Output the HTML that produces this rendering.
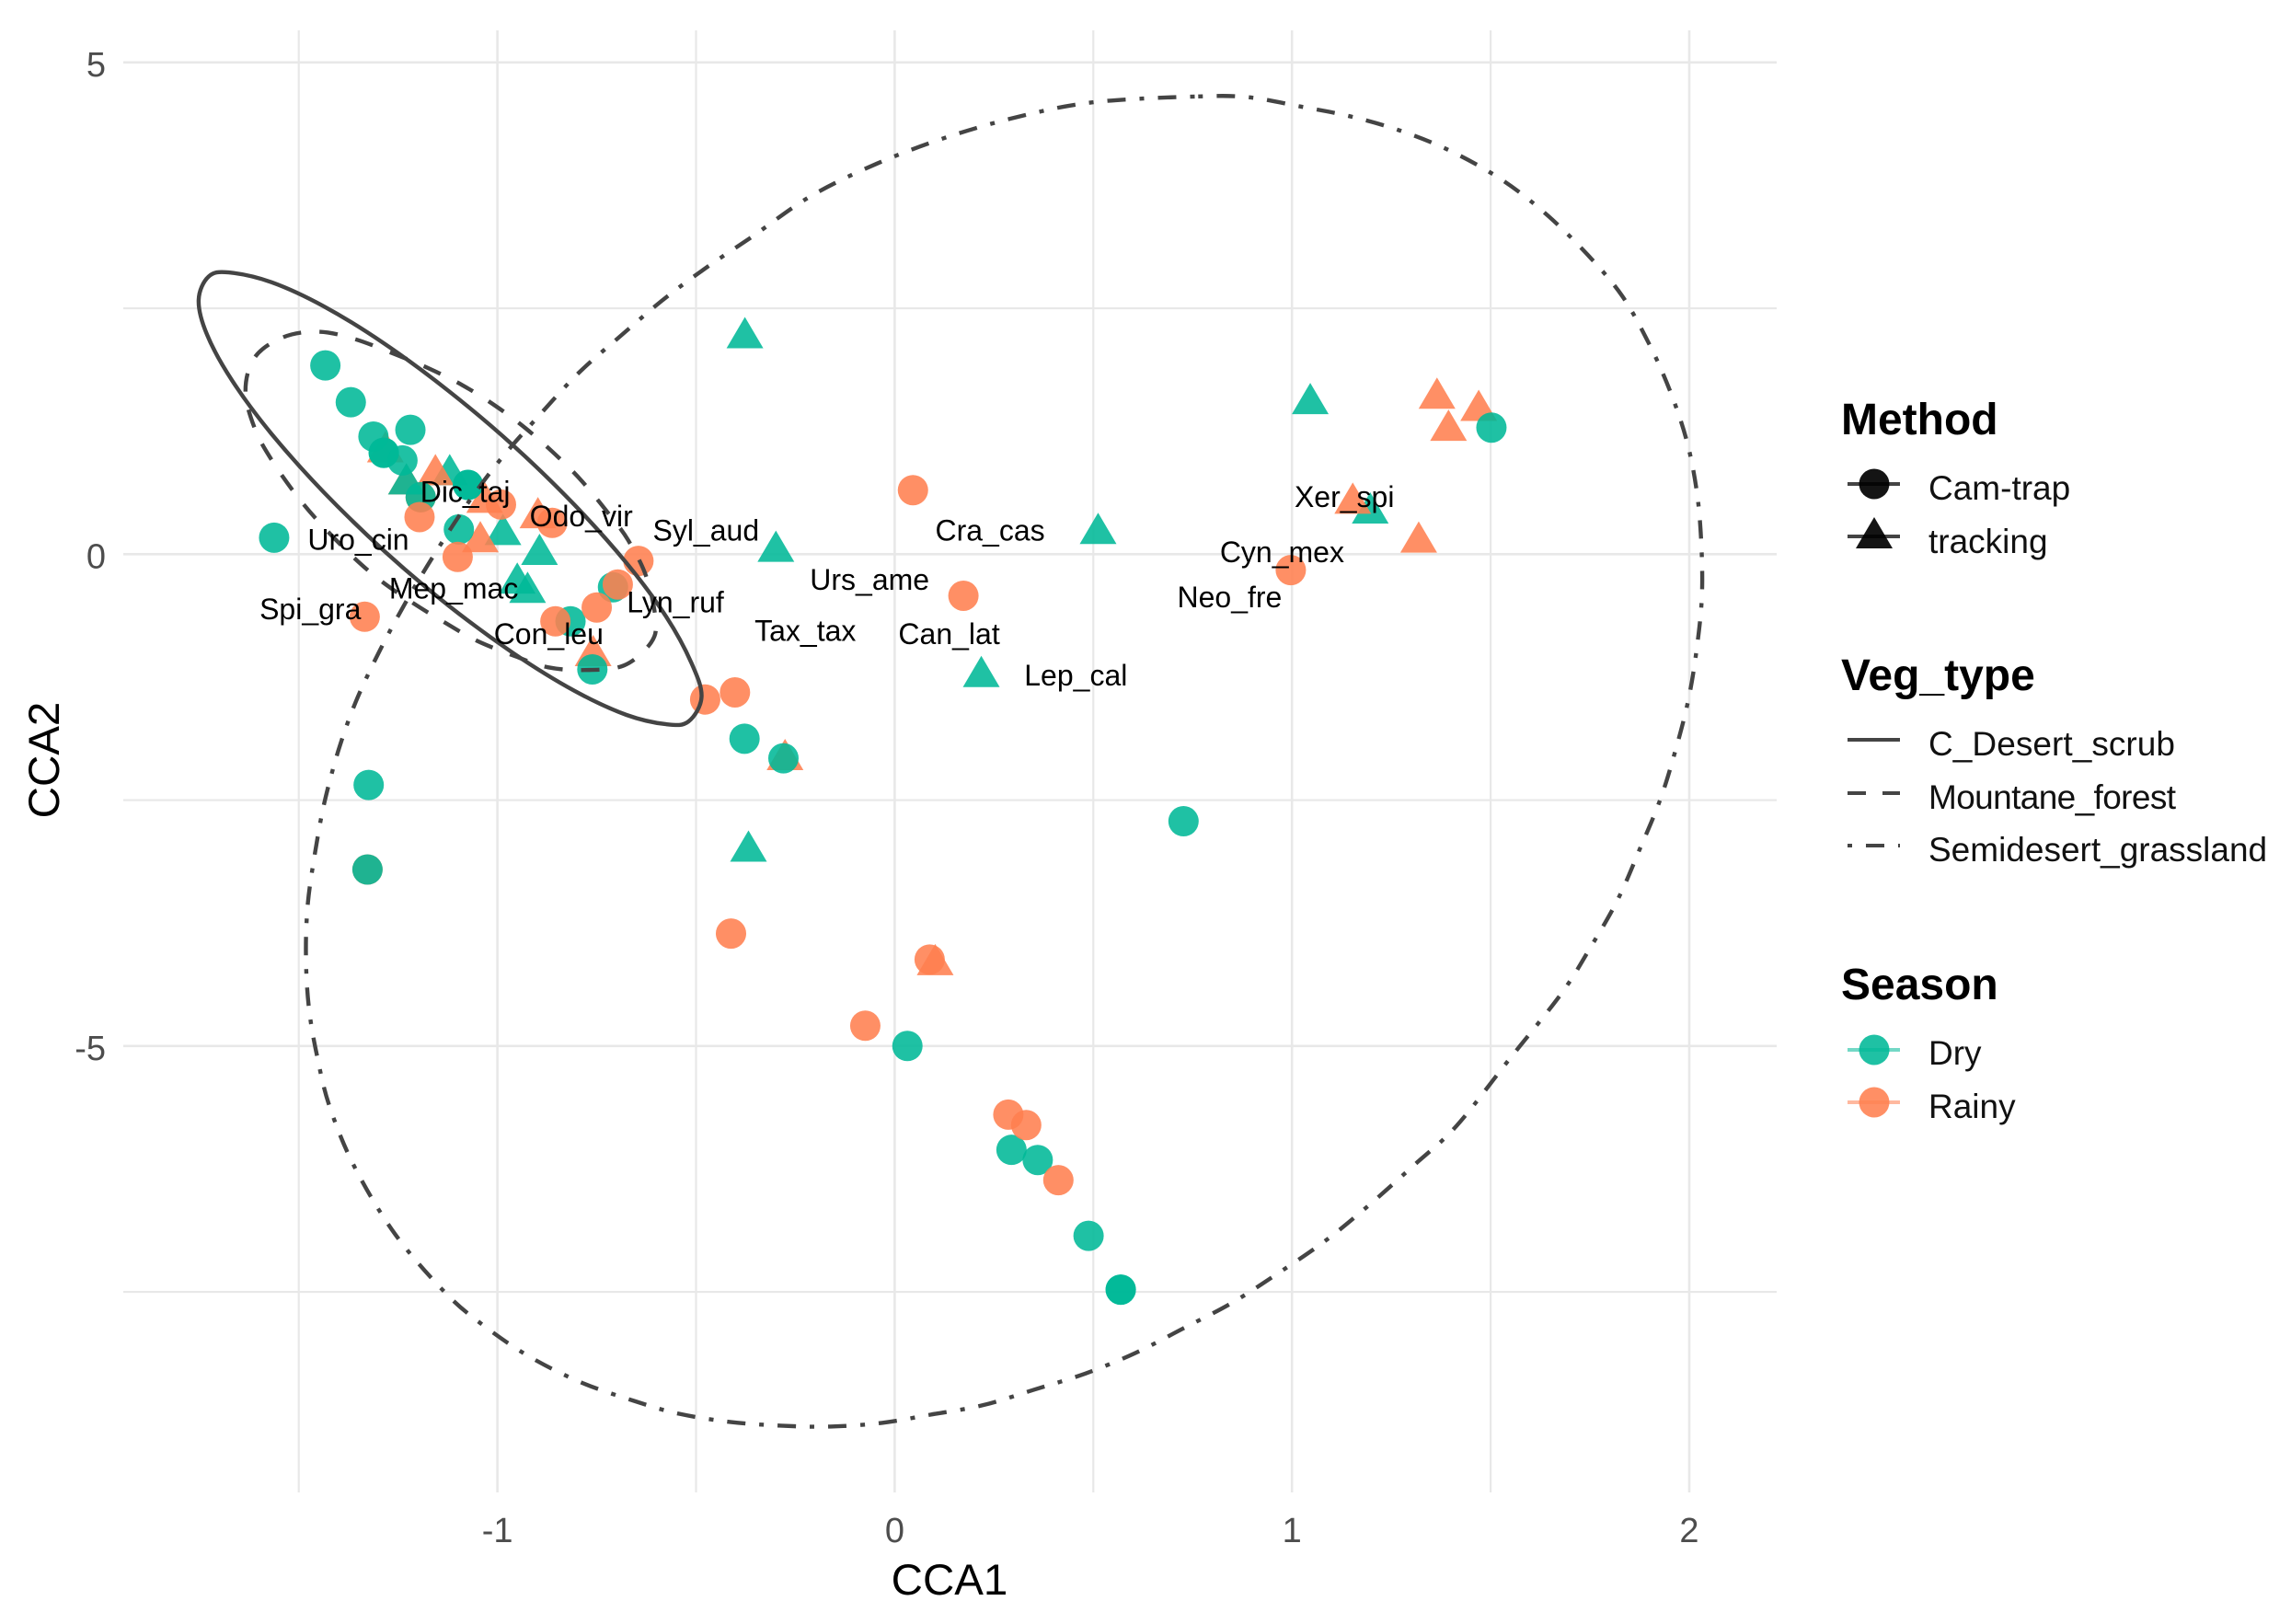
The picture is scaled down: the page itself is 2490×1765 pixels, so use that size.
<!DOCTYPE html>
<html lang="en">
<head>
<meta charset="utf-8">
<title>CCA ordination biplot</title>
<style>
html,body{margin:0;padding:0;background:#fff;}
svg{display:block;font-family:"Liberation Sans",Arial,sans-serif;}
</style>
</head>
<body>
<svg id="chart" xmlns="http://www.w3.org/2000/svg" width="2490" height="1765" viewBox="0 0 2490 1765">
  <g id="grid"></g>
  <g id="axes">
    <text x="1032" y="1733" font-size="47.5" text-anchor="middle" fill="#000">CCA1</text>
    <text transform="translate(64,826) rotate(-90)" font-size="47.5" text-anchor="middle" fill="#000">CCA2</text>
  </g>
  <g id="marks"></g>
  <g id="ellipses"></g>
  <g id="labels"></g>
  <g id="legend" fill="#111">
    <g>
      <text x="2001" y="472" font-size="48" font-weight="bold" fill="#000">Method</text>
      <g>
        <line x1="2008" x2="2065" y1="526" y2="526" stroke="#444" stroke-width="4"/>
        <circle cx="2037" cy="526" r="16.5" fill="#000" fill-opacity="0.92"/>
        <text x="2096" y="543" font-size="37">Cam-trap</text>
      </g>
      <g>
        <line x1="2008" x2="2065" y1="583" y2="583" stroke="#444" stroke-width="4"/>
        <polygon points="2037,562 2057,596 2017,596" fill="#000" fill-opacity="0.92"/>
        <text x="2096" y="601" font-size="37">tracking</text>
      </g>
    </g>
    <g>
      <text x="2001" y="750" font-size="48" font-weight="bold" fill="#000">Veg_type</text>
      <g>
        <line x1="2008" x2="2065" y1="804" y2="804" stroke="#444" stroke-width="4"/>
        <text x="2096" y="821" font-size="37" textLength="268">C_Desert_scrub</text>
      </g>
      <g>
        <line x1="2008" x2="2065" y1="862" y2="862" stroke="#444" stroke-width="4" stroke-dasharray="20 18"/>
        <text x="2096" y="879" font-size="37" textLength="269">Mountane_forest</text>
      </g>
      <g>
        <line x1="2008" x2="2065" y1="919" y2="919" stroke="#444" stroke-width="4" stroke-dasharray="5 15 20 15"/>
        <text x="2096" y="936" font-size="37">Semidesert_grassland</text>
      </g>
    </g>
    <g>
      <text x="2001" y="1086" font-size="48" font-weight="bold" fill="#000">Season</text>
      <g>
        <line x1="2008" x2="2065" y1="1141" y2="1141" stroke="#00b897" stroke-opacity="0.55" stroke-width="4"/>
        <circle cx="2037" cy="1141" r="16.5" fill="#00b897" fill-opacity="0.88"/>
        <text x="2096" y="1157" font-size="37">Dry</text>
      </g>
      <g>
        <line x1="2008" x2="2065" y1="1198" y2="1198" stroke="#ff7f50" stroke-opacity="0.55" stroke-width="4"/>
        <circle cx="2037" cy="1198" r="16.5" fill="#ff7f50" fill-opacity="0.88"/>
        <text x="2096" y="1215" font-size="37">Rainy</text>
      </g>
    </g>
  </g>
</svg>
<script>
// ---- tick data ----
var xMajorTicks = [-1, 0, 1, 2];
var xMajorLabels = ["-1", "0", "1", "2"];
var xMinorTicks = [-1.5, -0.5, 0.5, 1.5];
var yMajorTicks = [5, 0, -5];
var yMajorLabels = ["5", "0", "-5"];
var yMinorTicks = [2.5, -2.5, -7.5];

// ---- point series (CCA1, CCA2) ----
var hiddenRainyTrackingCCA1 = [-1.229];
var hiddenRainyTrackingCCA2 = [0.766];
var hiddenRainyCamCCA1 = [-1.327,-1.193];
var hiddenRainyCamCCA2 = [-3.206,0.579];
var dryTrackingCCA1 = [-1.229,-1.120,-0.986,-0.894,-0.950,-0.924,-0.377,-0.299,-0.368,0.218,0.512,1.046,1.197];
var dryTrackingCCA2 = [0.766,0.860,0.252,0.050,-0.243,-0.336,2.252,0.081,-2.967,-1.192,0.262,1.582,0.470];
var rainyTrackingCCA1 = [-1.156,-1.282,-1.032,-0.898,-1.043,-0.759,-0.276,0.102,1.365,1.470,1.394,1.153,1.319];
var rainyTrackingCCA2 = [0.860,1.093,0.579,0.423,0.178,-0.979,-2.037,-4.121,1.638,1.514,1.311,0.570,0.175];
var dryCamCCA1 = [-1.433,-1.369,-1.312,-1.219,-1.286,-1.286,-1.239,-1.193,-1.074,-1.074,-1.097,-1.562,-0.761,-0.816,-0.709,-0.378,-0.280,1.502,-1.324,-1.327,0.727,0.032,0.294,0.360,0.488,0.569,0.569];
var dryCamCCA2 = [1.919,1.545,1.196,1.264,1.031,1.031,0.953,0.579,0.704,0.704,0.252,0.168,-1.171,-0.682,-0.336,-1.876,-2.075,1.287,-2.346,-3.206,-2.715,-5.000,-6.056,-6.159,-6.930,-7.477,-7.477];
var rainyCamCCA1 = [-1.196,-1.100,-0.991,-0.862,-0.645,-0.697,-0.750,-0.854,-1.334,-0.477,-0.402,0.046,0.173,0.997,-0.412,-0.074,0.286,0.331,0.412,0.088];
var rainyCamCCA2 = [0.377,-0.028,0.505,0.318,-0.068,-0.308,-0.542,-0.682,-0.636,-1.477,-1.405,0.651,-0.423,-0.162,-3.857,-4.794,-5.698,-5.804,-6.364,-4.121];

// ---- ellipse outlines (CCA1, CCA2) ----
var scrubCCA1 = [-0.486,-0.512,-0.575,-0.675,-0.806,-0.958,-1.122,-1.285,-1.437,-1.568,-1.676,-1.727,-1.752,-1.731,-1.668,-1.568,-1.437,-1.285,-1.122,-0.958,-0.806,-0.675,-0.575,-0.519];
var scrubCCA2 = [-1.449,-1.102,-0.636,-0.090,0.501,1.097,1.657,2.142,2.520,2.764,2.864,2.822,2.583,2.233,1.767,1.221,0.630,0.034,-0.526,-1.011,-1.389,-1.634,-1.729,-1.701];
var forestCCA1 = [-1.539,-1.451,-1.359,-1.255,-1.172,-1.089,-1.007,-0.929,-0.856,-0.789,-0.722,-0.671,-0.625,-0.602,-0.613,-0.681,-0.780,-0.873,-0.955,-1.049,-1.131,-1.213,-1.296,-1.368,-1.447,-1.502,-1.563,-1.609,-1.634,-1.611];
var forestCCA2 = [2.206,2.262,2.187,2.028,1.888,1.720,1.514,1.280,1.021,0.750,0.423,0.143,-0.231,-0.664,-0.897,-1.131,-1.178,-1.150,-1.037,-0.885,-0.698,-0.495,-0.262,-0.009,0.318,0.579,0.925,1.262,1.654,2.000];
var grassCCA1 = [0.764,0.891,1.022,1.149,1.280,1.407,1.533,1.643,1.745,1.832,1.901,1.953,1.994,2.019,2.030,2.032,2.020,1.999,1.967,1.928,1.875,1.820,1.751,1.678,1.546,1.414,1.307,1.197,1.086,0.965,0.848,0.726,0.607,0.480,0.352,0.220,0.090,-0.032,-0.162,-0.287,-0.414,-0.544,-0.657,-0.789,-0.919,-1.032,-1.130,-1.257,-1.359,-1.422,-1.454,-1.475,-1.482,-1.477,-1.459,-1.436,-1.401,-1.357,-1.296,-1.225,-1.151,-1.072,-0.988,-0.896,-0.796,-0.691,-0.587,-0.479,-0.359,-0.213,-0.044,0.134,0.322,0.507];
var grassCCA2 = [4.654,4.645,4.551,4.449,4.296,4.084,3.794,3.446,3.040,2.620,2.121,1.645,1.147,0.636,0.128,-0.411,-0.925,-1.455,-1.969,-2.483,-3.003,-3.511,-4.000,-4.467,-5.140,-5.813,-6.212,-6.607,-6.975,-7.311,-7.614,-7.872,-8.119,-8.330,-8.493,-8.654,-8.748,-8.832,-8.869,-8.860,-8.822,-8.738,-8.607,-8.421,-8.159,-7.850,-7.514,-6.916,-6.234,-5.620,-5.100,-4.592,-4.063,-3.549,-3.035,-2.536,-2.007,-1.507,-0.979,-0.449,0.047,0.533,0.984,1.405,1.841,2.215,2.573,2.900,3.227,3.636,3.972,4.243,4.458,4.598];

// ---- species labels ----
var speciesNames = ["Uro_cin","Dic_taj","Odo_vir","Syl_aud","Mep_mac","Spi_gra","Lyn_ruf","Con_leu","Tax_tax","Urs_ame","Can_lat","Cra_cas","Lep_cal","Xer_spi","Cyn_mex","Neo_fre"];
var speciesCCA1 = [-1.350,-1.081,-0.789,-0.475,-1.110,-1.471,-0.552,-0.871,-0.225,-0.063,0.137,0.240,0.456,1.132,0.975,0.843];
var speciesCCA2 = [0.047,0.533,0.283,0.140,-0.449,-0.661,-0.589,-0.916,-0.880,-0.362,-0.916,0.140,-1.336,0.479,-0.081,-0.542];

var NS = "http://www.w3.org/2000/svg";
function sx(v) { return 972.4 + 431.8 * v; }
function sy(v) { return 602.3 - 106.9 * v; }
var PANEL_L = 134, PANEL_R = 1931, PANEL_T = 33, PANEL_B = 1622;
var gGrid = document.getElementById("grid");
var gAxes = document.getElementById("axes");
var gMarks = document.getElementById("marks");
var gEll = document.getElementById("ellipses");
var gLabels = document.getElementById("labels");

function gridLine(x1, y1, x2, y2, w) {
  var l = document.createElementNS(NS, "line");
  l.setAttribute("x1", x1);
  l.setAttribute("y1", y1);
  l.setAttribute("x2", x2);
  l.setAttribute("y2", y2);
  l.setAttribute("stroke", "#e8e8e8");
  l.setAttribute("stroke-width", w);
  
  
  gGrid.appendChild(l);
}
xMinorTicks.forEach(function (t) { gridLine(sx(t), PANEL_T, sx(t), PANEL_B, 2.2); });
yMinorTicks.forEach(function (t) { gridLine(PANEL_L, sy(t), PANEL_R, sy(t), 2.2); });
xMajorTicks.forEach(function (t) { gridLine(sx(t), PANEL_T, sx(t), PANEL_B, 2.6); });
yMajorTicks.forEach(function (t) { gridLine(PANEL_L, sy(t), PANEL_R, sy(t), 2.6); });

xMajorTicks.forEach(function (t, i) {
  var e = document.createElementNS(NS, "text");
  e.setAttribute("x", sx(t));
  e.setAttribute("y", 1676);
  e.setAttribute("font-size", 38);
  e.setAttribute("text-anchor", "middle");
  e.setAttribute("fill", "#4d4d4d");
  
  
  e.textContent = xMajorLabels[i];
  gAxes.appendChild(e);
});
yMajorTicks.forEach(function (t, i) {
  var e = document.createElementNS(NS, "text");
  e.setAttribute("x", 115);
  e.setAttribute("y", sy(t) + 15);
  e.setAttribute("font-size", 38);
  e.setAttribute("text-anchor", "end");
  e.setAttribute("fill", "#4d4d4d");
  
  
  e.textContent = yMajorLabels[i];
  gAxes.appendChild(e);
});

function drawCircles(xs, ys, color, name) {
  xs.forEach(function (v, i) {
    var c = document.createElementNS(NS, "circle");
    c.setAttribute("cx", sx(v));
    c.setAttribute("cy", sy(ys[i]));
    c.setAttribute("r", 16.5);
    c.setAttribute("fill", color);
    c.setAttribute("fill-opacity", 0.88);
    
    
    gMarks.appendChild(c);
  });
}
function drawTriangles(xs, ys, color, name) {
  xs.forEach(function (v, i) {
    var px = sx(v), py = sy(ys[i]);
    var t = document.createElementNS(NS, "polygon");
    t.setAttribute("points", px + "," + (py - 17) + " " + (px + 20) + "," + (py + 17) + " " + (px - 20) + "," + (py + 17));
    t.setAttribute("fill", color);
    t.setAttribute("fill-opacity", 0.88);
    
    
    gMarks.appendChild(t);
  });
}
drawTriangles(hiddenRainyTrackingCCA1, hiddenRainyTrackingCCA2, "#ff7f50", "point-rainy-tracking");
drawCircles(hiddenRainyCamCCA1, hiddenRainyCamCCA2, "#ff7f50", "point-rainy-cam-trap");
drawTriangles(dryTrackingCCA1, dryTrackingCCA2, "#00b897", "point-dry-tracking");
drawTriangles(rainyTrackingCCA1, rainyTrackingCCA2, "#ff7f50", "point-rainy-tracking");
drawCircles(dryCamCCA1, dryCamCCA2, "#00b897", "point-dry-cam-trap");
drawCircles(rainyCamCCA1, rainyCamCCA2, "#ff7f50", "point-rainy-cam-trap");

// Closed smooth curve through the read-off outline points
function closedPath(xs, ys) {
  var n = xs.length, pts = xs.map(function (v, i) { return [sx(v), sy(ys[i])]; });
  var d = "M" + pts[0][0].toFixed(1) + " " + pts[0][1].toFixed(1);
  for (var i = 0; i < n; i++) {
    var p0 = pts[(i - 1 + n) % n], p1 = pts[i], p2 = pts[(i + 1) % n], p3 = pts[(i + 2) % n];
    d += "C" + (p1[0] + (p2[0] - p0[0]) / 6).toFixed(1) + " " + (p1[1] + (p2[1] - p0[1]) / 6).toFixed(1) + " " +
         (p2[0] - (p3[0] - p1[0]) / 6).toFixed(1) + " " + (p2[1] - (p3[1] - p1[1]) / 6).toFixed(1) + " " +
         p2[0].toFixed(1) + " " + p2[1].toFixed(1);
  }
  return d + "Z";
}
function drawEllipse(xs, ys, dash, name) {
  var p = document.createElementNS(NS, "path");
  p.setAttribute("d", closedPath(xs, ys));
  p.setAttribute("fill", "none");
  p.setAttribute("stroke", "#444");
  p.setAttribute("stroke-width", 4.4);
  if (dash) { p.setAttribute("stroke-dasharray", dash); }
  
  
  gEll.appendChild(p);
}
drawEllipse(grassCCA1, grassCCA2, "5 15 20 15", "ellipse-semidesert-grassland");
drawEllipse(forestCCA1, forestCCA2, "20 20", "ellipse-mountane-forest");
drawEllipse(scrubCCA1, scrubCCA2, "", "ellipse-desert-scrub");

speciesNames.forEach(function (s, i) {
  var e = document.createElementNS(NS, "text");
  e.setAttribute("x", sx(speciesCCA1[i]));
  e.setAttribute("y", sy(speciesCCA2[i]));
  e.setAttribute("font-size", 32);
  e.setAttribute("text-anchor", "middle");
  e.setAttribute("fill", "#000");
  
  
  e.textContent = s;
  gLabels.appendChild(e);
});
</script>
</body>
</html>
